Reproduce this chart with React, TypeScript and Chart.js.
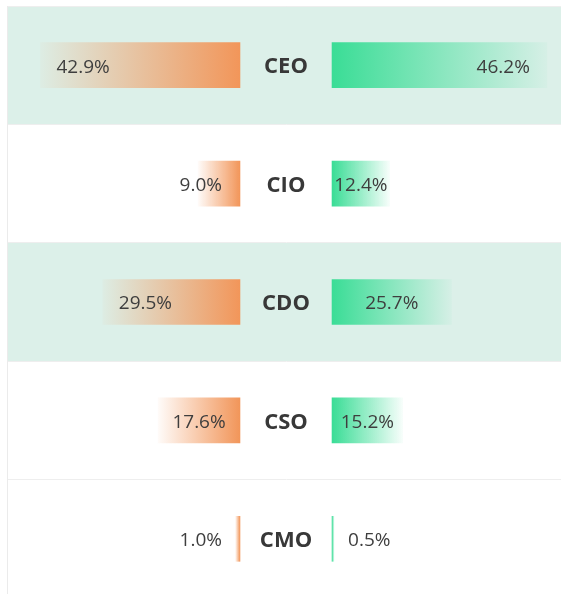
import React, { useEffect, useRef } from "react";
import { Chart, registerables } from "chart.js";

Chart.register(...registerables);

// ---- data ----
const categories = ["CEO", "CIO", "CDO", "CSO", "CMO"];
const leftValues = [42.9, 9.0, 29.5, 17.6, 1.0];
const rightValues = [46.2, 12.4, 25.7, 15.2, 0.5];
const bandCategories = ["CEO", "CDO"];

// ---- layout constants ----
const GAP = 9.9; // half-gap around the centre, in axis units
const X_MIN = -60;
const X_MAX = 60;

const ORANGE = [242, 150, 90];
const GREEN = [58, 221, 150];
const VALUE_FONT = "19px 'Open Sans', 'Noto Sans', sans-serif";
const CAT_FONT = "bold 22px 'Open Sans', 'Noto Sans', sans-serif";

const rgba = (c: number[], a: number) => `rgba(${c[0]},${c[1]},${c[2]},${a})`;

function gradientFill(color: number[]) {
  return (ctx: any) => {
    const chart = ctx.chart;
    const area = chart.chartArea;
    if (!area || ctx.type !== "data" || !ctx.raw) return rgba(color, 1);
    const raw = ctx.raw as [number, number];
    const xs = chart.scales.x;
    const innerV = Math.abs(raw[0]) < Math.abs(raw[1]) ? raw[0] : raw[1];
    const outerV = innerV === raw[0] ? raw[1] : raw[0];
    const inner = xs.getPixelForValue(innerV);
    const outer = xs.getPixelForValue(outerV);
    if (Math.abs(outer - inner) < 0.5) return rgba(color, 1);
    const g = chart.ctx.createLinearGradient(inner, 0, outer, 0);
    g.addColorStop(0, rgba(color, 1));
    g.addColorStop(1, rgba(color, 0.04));
    return g;
  };
}

const bandPlugin = {
  id: "bands",
  beforeDraw(chart: any) {
    const { ctx, chartArea, scales } = chart;
    if (!chartArea) return;
    const ys = scales.y;
    const rowH = ys.getPixelForValue(1) - ys.getPixelForValue(0);
    ctx.save();
    ctx.fillStyle = "#dcf0e9";
    categories.forEach((c, i) => {
      if (!bandCategories.includes(c)) return;
      const cy = ys.getPixelForValue(i);
      ctx.fillRect(chartArea.left, cy - rowH / 2, chartArea.right - chartArea.left, rowH);
    });
    ctx.restore();
  },
};

const labelPlugin = {
  id: "labels",
  afterDatasetsDraw(chart: any) {
    const { ctx, scales } = chart;
    const xs = scales.x;
    const ys = scales.y;
    const center = xs.getPixelForValue(0);
    ctx.save();
    ctx.textBaseline = "middle";
    // category names
    ctx.font = CAT_FONT;
    ctx.fillStyle = "#383838";
    ctx.textAlign = "center";
    categories.forEach((c, i) => {
      ctx.fillText(c, center, ys.getPixelForValue(i) + 2);
    });
    // values
    ctx.font = VALUE_FONT;
    ctx.fillStyle = "#3e3e3e";
    ctx.textAlign = "left";
    chart.data.datasets.forEach((ds: any, di: number) => {
      const meta = chart.getDatasetMeta(di);
      const isLeft = di === 0;
      const values = isLeft ? leftValues : rightValues;
      meta.data.forEach((el: any, i: number) => {
        const raw = ds.data[i] as [number, number];
        const p0 = xs.getPixelForValue(raw[0]);
        const p1 = xs.getPixelForValue(raw[1]);
        const lo = Math.min(p0, p1);
        const hi = Math.max(p0, p1);
        const len = hi - lo;
        const text = values[i].toFixed(1) + "%";
        const w = ctx.measureText(text).width;
        let x: number;
        if (len >= w + 80) {
          x = isLeft ? lo + 16 : hi - 17 - w;
        } else if (len >= w + 4) {
          x = (lo + hi) / 2 - w / 2;
        } else {
          x = isLeft ? hi - 18 - w : lo + 16;
        }
        ctx.fillText(text, x, el.y + 2);
      });
    });
    ctx.restore();
  },
};

export default function App() {
  const ref = useRef<HTMLCanvasElement | null>(null);

  useEffect(() => {
    if (!ref.current) return;
    const chart = new Chart(ref.current, {
      type: "bar",
      data: {
        labels: categories,
        datasets: [
          {
            label: "left",
            data: leftValues.map((v) => [-GAP - v, -GAP]) as any,
            backgroundColor: gradientFill(ORANGE) as any,
            borderWidth: 0,
            barThickness: 45,
            grouped: false,
          } as any,
          {
            label: "right",
            data: rightValues.map((v) => [GAP, GAP + v]) as any,
            backgroundColor: gradientFill(GREEN) as any,
            borderWidth: 0,
            barThickness: 45,
            grouped: false,
          } as any,
        ],
      },
      options: {
        indexAxis: "y",
        animation: false,
        responsive: false,
        maintainAspectRatio: false,
        layout: { padding: { left: 7, top: 6, right: 0, bottom: 0 } },
        plugins: {
          legend: { display: false },
          tooltip: { enabled: false },
        },
        scales: {
          x: {
            type: "linear",
            min: X_MIN,
            max: X_MAX,
            display: false,
          },
          y: {
            type: "category",
            display: true,
            offset: true,
            ticks: { display: false },
            grid: {
              offset: true,
              color: "#eeeeee",
              drawTicks: false,
              lineWidth: 1,
            },
            border: { display: true, color: "#ebebeb" },
          },
        },
      } as any,
      plugins: [bandPlugin, labelPlugin],
    });
    return () => chart.destroy();
  }, []);

  return (
    <div
      style={{
        position: "fixed",
        left: 0,
        top: 0,
        width: 561,
        height: 594,
        overflow: "hidden",
        background: "#ffffff",
      }}
    >
      <canvas ref={ref} width={565} height={598} style={{ display: "block" }} />
    </div>
  );
}
